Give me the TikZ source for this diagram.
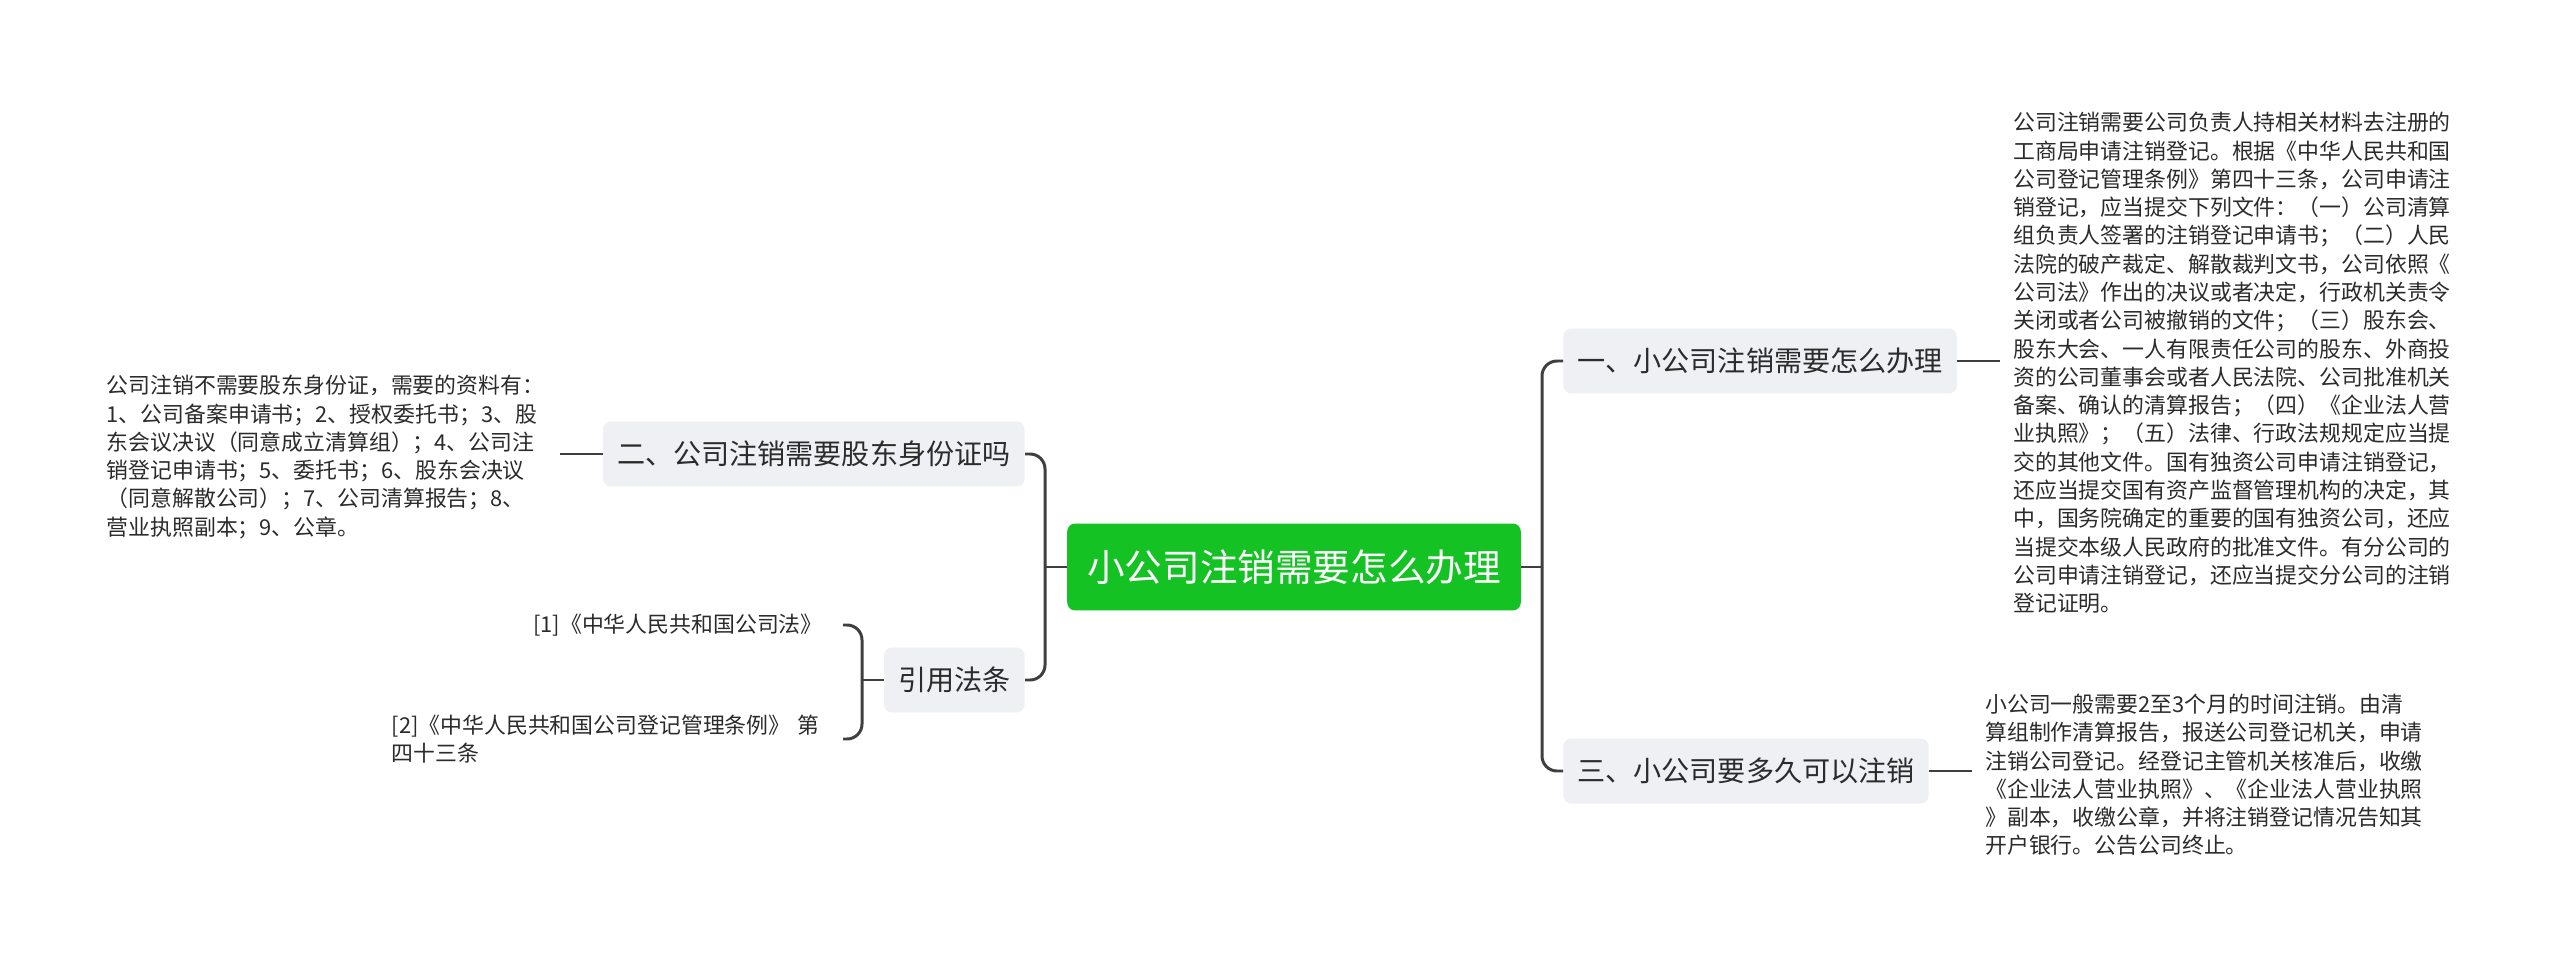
\documentclass[tikz,border=0pt]{standalone}
\usepackage{fontspec}
\setmainfont{Noto Sans CJK SC}
\definecolor{rootgreen}{HTML}{14C224}
\definecolor{topicgray}{HTML}{EEF0F3}
\definecolor{linegray}{HTML}{3F3F3F}
\definecolor{textdark}{HTML}{2B2B2B}

\begin{document}
\begin{tikzpicture}[x=0.02cm,y=-0.02cm,
    root/.style={fill=rootgreen, rounded corners=0.16cm, text=white, inner xsep=0.4cm, minimum height=1.74cm, font=\fontsize{21.4}{26}\selectfont},
    topic/.style={fill=topicgray, rounded corners=0.16cm, text=textdark, inner xsep=0.28cm, minimum height=1.3cm, font=\fontsize{16}{20}\selectfont},
    leaf/.style={text=textdark, align=left, inner xsep=0.26cm, font=\fontsize{12.45}{16.1}\selectfont},
    cite/.style={leaf, inner xsep=0.4cm},
    link/.style={draw=linegray, line width=1.7pt},
    elbow/.style={link, rounded corners=0.3cm}]
    \useasboundingbox[fill=white] (0,0) rectangle (2560,963);
    \node[root] (root) at (1294,567) {小公司注销需要怎么办理};
    \node[topic, anchor=west] (b1) at (1563,361) {一、小公司注销需要怎么办理};
    \node[topic, anchor=west] (b3) at (1563,771) {三、小公司要多久可以注销};
    \node[topic, anchor=east] (b2) at (1025,454) {二、公司注销需要股东身份证吗};
    \node[topic, anchor=east] (b4) at (1025,680) {引用法条};
    \node[leaf, anchor=west, text width=9cm] (leaf1) at (2000,363) {公司注销需要公司负责人持相关材料去注册的\\工商局申请注销登记。根据《中华人民共和国\\公司登记管理条例》第四十三条，公司申请注\\销登记，应当提交下列文件：（一）公司清算\\组负责人签署的注销登记申请书；（二）人民\\法院的破产裁定、解散裁判文书，公司依照《\\公司法》作出的决议或者决定，行政机关责令\\关闭或者公司被撤销的文件；（三）股东会、\\股东大会、一人有限责任公司的股东、外商投\\资的公司董事会或者人民法院、公司批准机关\\备案、确认的清算报告；（四）《企业法人营\\业执照》；（五）法律、行政法规规定应当提\\交的其他文件。国有独资公司申请注销登记，\\还应当提交国有资产监督管理机构的决定，其\\中，国务院确定的重要的国有独资公司，还应\\当提交本级人民政府的批准文件。有分公司的\\公司申请注销登记，还应当提交分公司的注销\\登记证明。};
    \node[leaf, anchor=west, text width=9cm] (leaf3) at (1972,775) {小公司一般需要2至3个月的时间注销。由清\\算组制作清算报告，报送公司登记机关，申请\\注销公司登记。经登记主管机关核准后，收缴\\《企业法人营业执照》、《企业法人营业执照\\》副本，收缴公章，并将注销登记情况告知其\\开户银行。公告公司终止。};
    \node[leaf, anchor=east, text width=8.8cm] (leaf2) at (560,457) {公司注销不需要股东身份证，需要的资料有：\\1、公司备案申请书；2、授权委托书；3、股\\东会议决议（同意成立清算组）；4、公司注\\销登记申请书；5、委托书；6、股东会决议\\（同意解散公司）；7、公司清算报告；8、\\营业执照副本；9、公章。};
    \node[cite, anchor=east] (cite1) at (843,625) {[1]《中华人民共和国公司法》};
    \node[cite, anchor=east, text width=8.62cm] (cite2) at (843,739) {[2]《中华人民共和国公司登记管理条例》 第\\四十三条};
    \coordinate (rtrunk) at (1542,567);
    \coordinate (ltrunk) at (1045,567);
    \coordinate (ctrunk) at (862,680);
    \draw[link] (root.east) -- (rtrunk);
    \draw[elbow] (rtrunk) |- (b1.west);
    \draw[elbow] (rtrunk) |- (b3.west);
    \draw[link] (root.west) -- (ltrunk);
    \draw[elbow] (ltrunk) |- (b2.east);
    \draw[elbow] (ltrunk) |- (b4.east);
    \draw[link] (b4.west) -- (ctrunk);
    \draw[elbow] (ctrunk) |- (cite1.east);
    \draw[elbow] (ctrunk) |- (cite2.east);
    \draw[link] (b1.east) -- (leaf1.west |- b1.east);
    \draw[link] (b3.east) -- (leaf3.west |- b3.east);
    \draw[link] (b2.west) -- (leaf2.east |- b2.west);
\end{tikzpicture}
\end{document}
